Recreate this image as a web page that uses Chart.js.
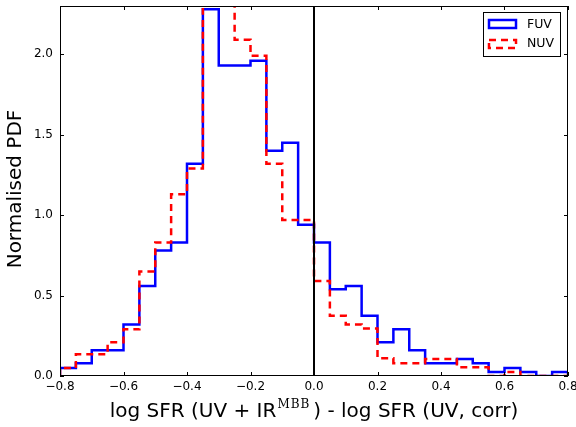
<!DOCTYPE html>
<html>
<head>
<meta charset="utf-8">
<script src="https://cdn.jsdelivr.net/npm/chart.js@4.4.0/dist/chart.umd.min.js"></script>
<style>
  html, body { margin: 0; padding: 0; background: #fff; }
  #wrap { width: 576px; height: 427px; }
</style>
</head>
<body>
<div id="wrap"><canvas id="hist" width="576" height="427"></canvas></div>
<script>
// bin edges of the histogram (width 0.05)
const binEdges = [
  -0.80, -0.75, -0.70, -0.65, -0.60, -0.55, -0.50, -0.45, -0.40, -0.35, -0.30,
  -0.25, -0.20, -0.15, -0.10, -0.05, 0.00, 0.05, 0.10, 0.15, 0.20, 0.25,
  0.30, 0.35, 0.40, 0.45, 0.50, 0.55, 0.60, 0.65, 0.70, 0.75, 0.80
];

// normalised PDF per bin
const fuvDensity = [
  0.05, 0.08, 0.16, 0.16, 0.32, 0.56, 0.78, 0.83, 1.32, 2.28, 1.93, 1.93,
  1.96, 1.40, 1.45, 0.94, 0.83, 0.54, 0.56, 0.375, 0.21, 0.29, 0.16, 0.08,
  0.08, 0.105, 0.08, 0.025, 0.05, 0.025, 0.0, 0.025
];
const nuvDensity = [
  0.05, 0.135, 0.135, 0.21, 0.29, 0.65, 0.83, 1.13, 1.29, 2.6, 2.5, 2.09,
  1.99, 1.32, 0.97, 0.97, 0.59, 0.375, 0.32, 0.295, 0.11, 0.08, 0.08, 0.105,
  0.105, 0.055, 0.055, 0.0, 0.025, 0.0, 0.0, 0.0
];

const xTicks = [-0.8, -0.6, -0.4, -0.2, 0.0, 0.2, 0.4, 0.6, 0.8];
const yTicks = [0.0, 0.5, 1.0, 1.5, 2.0];
const xRange = [-0.8, 0.8];
const yRange = [0, 2.3];
const refLine = 0.0;

const FONT = "'DejaVu Sans', sans-serif";

// histtype='step' style outline
function stepPoints(values) {
  const pts = [{ x: binEdges[0], y: 0 }];
  values.forEach((v, i) => pts.push({ x: binEdges[i], y: v }));
  pts.push({ x: binEdges[binEdges.length - 1], y: values[values.length - 1] });
  pts.push({ x: binEdges[binEdges.length - 1], y: 0 });
  return pts;
}

const fmt = v => v.toFixed(1).replace("-", "\u2212");

// frame, inward ticks, legend box and axis titles (matplotlib look)
const decor = {
  id: "decor",
  afterDraw(chart) {
    const { ctx, chartArea: a, scales } = chart;
    const xs = scales.x, ys = scales.y;
    ctx.save();
    ctx.strokeStyle = "#000";
    ctx.lineWidth = 1;
    ctx.strokeRect(a.left + 0.5, a.top + 0.5, a.right - a.left - 1, a.bottom - a.top - 1);

    ctx.beginPath();
    xTicks.forEach(v => {
      const px = Math.round(xs.getPixelForValue(v)) + 0.5;
      ctx.moveTo(px, a.bottom); ctx.lineTo(px, a.bottom - 4);
      ctx.moveTo(px, a.top); ctx.lineTo(px, a.top + 4);
    });
    yTicks.forEach(v => {
      const py = Math.round(ys.getPixelForValue(v)) + 0.5;
      ctx.moveTo(a.left, py); ctx.lineTo(a.left + 4, py);
      ctx.moveTo(a.right, py); ctx.lineTo(a.right - 4, py);
    });
    ctx.stroke();

    // legend
    ctx.fillStyle = "#fff";
    ctx.fillRect(483, 12, 78, 45);
    ctx.strokeStyle = "#000";
    ctx.lineWidth = 1;
    ctx.strokeRect(483.5, 12.5, 77, 44);
    ctx.lineWidth = 2.5;
    ctx.strokeStyle = "#0000ff";
    ctx.setLineDash([]);
    ctx.strokeRect(489, 20, 27, 8);
    ctx.strokeStyle = "#ff0000";
    ctx.setLineDash([7, 5]);
    ctx.strokeRect(489, 40, 27, 8);
    ctx.setLineDash([]);
    ctx.fillStyle = "#000";
    ctx.font = "12.5px " + FONT;
    ctx.textBaseline = "middle";
    ctx.textAlign = "left";
    ctx.fillText("FUV", 527, 24.5);
    ctx.fillText("NUV", 527, 44);

    // y title
    ctx.save();
    ctx.translate(16, 189);
    ctx.rotate(-Math.PI / 2);
    ctx.textAlign = "center";
    ctx.textBaseline = "middle";
    ctx.font = "20px " + FONT;
    ctx.fillText("Normalised PDF", 0, 0);
    ctx.restore();

    // x title with superscript
    const parts = [
      { t: "log SFR (UV + IR", f: "20px " + FONT, y: 417, gap: 1, ls: "0px" },
      { t: "MBB", f: "12px 'DejaVu Serif', serif", y: 408, gap: 3, ls: "1px" },
      { t: ") - log SFR (UV, corr)", f: "20px " + FONT, y: 417, gap: 0, ls: "0px" }
    ];
    let total = 0;
    parts.forEach(p => {
      ctx.font = p.f; ctx.letterSpacing = p.ls;
      p.w = ctx.measureText(p.t).width; total += p.w + p.gap;
    });
    let x = (a.left + a.right) / 2 - total / 2;
    ctx.textAlign = "left";
    ctx.textBaseline = "alphabetic";
    parts.forEach(p => {
      ctx.font = p.f; ctx.letterSpacing = p.ls;
      ctx.fillText(p.t, x, p.y);
      x += p.w + p.gap;
    });
    ctx.letterSpacing = "0px";
    ctx.restore();
  }
};

new Chart(document.getElementById("hist"), {
  type: "line",
  data: {
    datasets: [
      {
        label: "FUV",
        data: stepPoints(fuvDensity),
        borderColor: "#0000ff",
        borderWidth: 2.5,
        stepped: "before",
        pointRadius: 0,
        fill: false,
        order: 3,
      },
      {
        label: "NUV",
        data: stepPoints(nuvDensity),
        borderColor: "#ff0000",
        borderWidth: 2.5,
        borderDash: [7, 5],
        stepped: "before",
        pointRadius: 0,
        fill: false,
        order: 2,
      },
      {
        label: "zero",
        data: [{ x: refLine, y: yRange[0] }, { x: refLine, y: yRange[1] }],
        borderColor: "#000",
        borderWidth: 2,
        pointRadius: 0,
        order: 1,
      },
    ],
  },
  options: {
    responsive: false,
    animation: false,
    devicePixelRatio: 1,
    layout: { padding: { left: 0, right: 8, top: 6, bottom: 0 } },
    plugins: { legend: { display: false }, tooltip: { enabled: false } },
    scales: {
      x: {
        type: "linear",
        min: xRange[0],
        max: xRange[1],
        grid: { display: false, drawTicks: false },
        border: { display: false },
        afterBuildTicks: s => { s.ticks = xTicks.map(v => ({ value: v })); },
        afterFit: s => { s.height = 51; s.paddingLeft = 0; s.paddingRight = 0; },
        ticks: {
          color: "#000",
          padding: 4,
          maxRotation: 0,
          font: { family: FONT, size: 12 },
          callback: v => fmt(v),
        },
      },
      y: {
        type: "linear",
        min: yRange[0],
        max: yRange[1],
        grid: { display: false, drawTicks: false },
        border: { display: false },
        afterBuildTicks: s => { s.ticks = yTicks.map(v => ({ value: v })); },
        afterFit: s => { s.width = 60; s.paddingTop = 0; s.paddingBottom = 0; },
        ticks: {
          color: "#000",
          padding: 7,
          font: { family: FONT, size: 12 },
          callback: v => fmt(v),
        },
      },
    },
  },
  plugins: [decor],
});
</script>
</body>
</html>
